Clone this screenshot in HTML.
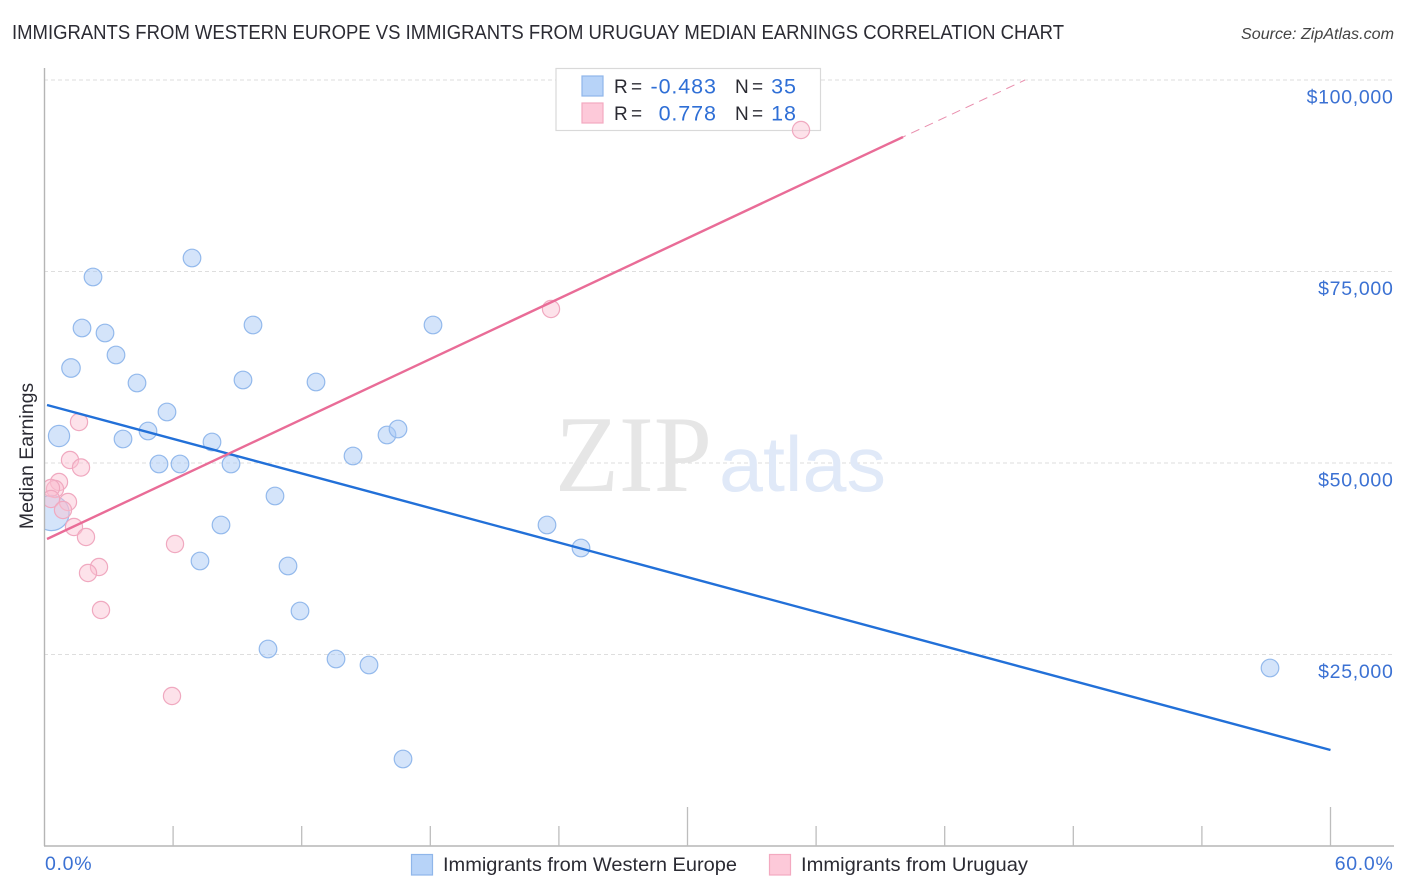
<!DOCTYPE html>
<html lang="en">
<head>
<meta charset="utf-8">
<title>Immigrants from Western Europe vs Immigrants from Uruguay Median Earnings Correlation Chart</title>
<style>
html,body{margin:0;padding:0;background:#fff;width:1406px;height:892px;overflow:hidden}
svg{display:block}
text{font-family:"Liberation Sans",sans-serif}
.tick-label{fill:#3b71d3;font-size:19.5px;letter-spacing:.7px}
.legend-text{fill:#2b2b33;font-size:19px;word-spacing:-2px}
.legend-value{fill:#2f6fd6;font-size:21.5px;letter-spacing:.9px}
</style>
</head>
<body>
<svg id="chart" xmlns="http://www.w3.org/2000/svg" width="1406" height="892" viewBox="0 0 1406 892">
  <defs>
    <clipPath id="plot-clip"><rect x="44" y="60" width="1350" height="786"/></clipPath>
  </defs>
  <text x="12" y="39" font-size="20" fill="#2b2b33" textLength="1052" lengthAdjust="spacingAndGlyphs">IMMIGRANTS FROM WESTERN EUROPE VS IMMIGRANTS FROM URUGUAY MEDIAN EARNINGS CORRELATION CHART</text>
  <text x="1241" y="39" font-size="15.5" font-style="italic" fill="#444" textLength="153" lengthAdjust="spacingAndGlyphs">Source: ZipAtlas.com</text>

  <g id="grid"></g>

  <g>
    <text x="555" y="491" style="font-family:'Liberation Serif',serif" font-size="109" fill="#e6e6e6" textLength="157" lengthAdjust="spacingAndGlyphs">ZIP</text>
    <text x="719" y="491" font-size="78" fill="#e0e9f8" textLength="167" lengthAdjust="spacingAndGlyphs">atlas</text>
  </g>

  <g>
    <rect x="556" y="68.5" width="264.5" height="62" fill="#fff" stroke="#d9d9d9" stroke-width="1.2"/>
    <rect x="582" y="76" width="21" height="20" fill="#b7d3f8" stroke="#8fb6ea" stroke-width="1.2"/>
    <text class="legend-text" x="614" y="93">R =</text>
    <text class="legend-value" x="716.9" y="93.5" text-anchor="end">-0.483</text>
    <text class="legend-text" x="735" y="93">N =</text>
    <text class="legend-value" x="796.9" y="93.5" text-anchor="end">35</text>
    <rect x="582" y="103" width="21" height="20" fill="#fdc9d9" stroke="#f3a9c0" stroke-width="1.2"/>
    <text class="legend-text" x="614" y="120">R =</text>
    <text class="legend-value" x="716.9" y="120.5" text-anchor="end">0.778</text>
    <text class="legend-text" x="735" y="120">N =</text>
    <text class="legend-value" x="796.9" y="120.5" text-anchor="end">18</text>
  </g>

  <g id="points" clip-path="url(#plot-clip)"></g>
  <g id="lines"></g>
  <g id="axes"></g>

  <text transform="translate(33,456) rotate(-90)" font-size="19.5" fill="#2b2b33" text-anchor="middle">Median Earnings</text>

  <g>
    <rect x="411.5" y="854.5" width="21" height="20.5" fill="#b7d3f8" stroke="#8fb6ea" stroke-width="1.2"/>
    <text x="443" y="871" font-size="19.5" fill="#2b2b33" textLength="294" lengthAdjust="spacingAndGlyphs">Immigrants from Western Europe</text>
    <rect x="769.5" y="854.5" width="21" height="20.5" fill="#fdc9d9" stroke="#f3a9c0" stroke-width="1.2"/>
    <text x="801" y="871" font-size="19.5" fill="#2b2b33" textLength="227" lengthAdjust="spacingAndGlyphs">Immigrants from Uruguay</text>
  </g>
</svg>
<script>
// Chart data
const yTickValues = [25000, 50000, 75000, 100000];
const yTickLabels = ['$25,000', '$50,000', '$75,000', '$100,000'];
const xTickValues = [0, 6, 12, 18, 24, 30, 36, 42, 48, 54, 60];
const xEndLabels = ['0.0%', '60.0%'];
const xMajorTicks = [30, 60];

const westernEuropeX = [2.263, 6.882, 1.750, 2.823, 9.728, 18.126, 3.336, 1.236, 4.316, 9.261, 12.667, 5.715, 4.829, 3.663, 0.677, 15.980, 16.493, 7.815, 14.394, 5.342, 6.322, 8.702, 10.754, 8.235, 23.445, 25.032, 7.255, 11.361, 11.921, 10.428, 13.601, 15.140, 57.178, 16.727, 0.327];
const westernEuropeY = [74282, 76762, 67624, 66971, 68016, 68016, 64099, 62402, 60444, 60836, 60574, 56658, 54178, 53133, 53525, 53655, 54439, 52742, 50914, 49869, 49869, 49869, 45692, 41906, 41906, 38903, 37206, 36554, 30679, 25718, 24413, 23629, 23238, 11358, 43473];
const westernEuropeWeight = [1, 1, 1, 1, 1, 1, 1, 1.1, 1, 1, 1, 1, 1, 1, 1.45, 1, 1, 1, 1, 1, 1, 1, 1, 1, 1, 1, 1, 1, 1, 1, 1, 1, 1, 1, 4];

const uruguayX = [35.296, 23.632, 1.610, 1.190, 1.703, 0.677, 0.490, 0.303, 0.303, 1.096, 0.863, 1.376, 1.936, 6.089, 2.543, 2.030, 2.636, 5.949];
const uruguayY = [93473, 70104, 55352, 50392, 49413, 47520, 46606, 46736, 45300, 44909, 43864, 41645, 40339, 39426, 36423, 35640, 30809, 19582];

const westernEuropeTrendX = [0.117, 60];
const westernEuropeTrendY = [57572, 12533];
const uruguayTrendX = [0.117, 40.055];
const uruguayTrendY = [40078, 92559];
const uruguayExtensionX = [40.055, 45.748];
const uruguayExtensionY = [92559, 100000];

// Axis functions
const xScale = v => 44.5 + v * (1330.5 - 44.5) / 60;
const yScale = v => 846 - v * (846 - 80) / 100000;

const NS = 'http://www.w3.org/2000/svg';
function make(parent, tag, attrs) {
  const el = document.createElementNS(NS, tag);
  for (const k in attrs) el.setAttribute(k, attrs[k]);
  parent.appendChild(el);
  return el;
}
const grid = document.getElementById('grid');
const axes = document.getElementById('axes');
const points = document.getElementById('points');
const lines = document.getElementById('lines');

yTickValues.forEach((v, i) => {
  const g = make(grid, 'line', {x1: 44, x2: 1394, y1: yScale(v), y2: yScale(v), stroke: '#dedede', 'stroke-width': 1, 'stroke-dasharray': '4 3'});
  
  
  const t = make(axes, 'text', {x: 1393.5, y: yScale(v) + 23.5, 'text-anchor': 'end', class: 'tick-label'});
  t.textContent = yTickLabels[i];
  
  
});

const yAxis = make(axes, 'line', {x1: 44.5, x2: 44.5, y1: 68, y2: 846, stroke: '#b5b5b5', 'stroke-width': 1.4});


const xAxis = make(axes, 'line', {x1: 44, x2: 1394, y1: 846, y2: 846, stroke: '#b5b5b5', 'stroke-width': 1.4});



xTickValues.forEach(v => {
  if (v === 0) return;
  const top = xMajorTicks.includes(v) ? 807 : 826;
  const tick = make(axes, 'line', {x1: xScale(v), x2: xScale(v), y1: top, y2: 846, stroke: '#bdbdbd', 'stroke-width': 1.3});
  
  
});

const xLeft = make(axes, 'text', {x: 45, y: 870, class: 'tick-label'});
xLeft.textContent = xEndLabels[0];


const xRight = make(axes, 'text', {x: 1393.5, y: 870, 'text-anchor': 'end', class: 'tick-label'});
xRight.textContent = xEndLabels[1];



westernEuropeX.forEach((x, i) => {
  const c = make(points, 'circle', {cx: xScale(x), cy: yScale(westernEuropeY[i]), r: 8.8 * Math.sqrt(westernEuropeWeight[i]), fill: 'rgba(170,202,245,.5)', stroke: '#93b9ec', 'stroke-width': 1.2});
  
  
});
uruguayX.forEach((x, i) => {
  const c = make(points, 'circle', {cx: xScale(x), cy: yScale(uruguayY[i]), r: 8.6, fill: 'rgba(250,190,208,.45)', stroke: '#f0a9c0', 'stroke-width': 1.2});
  
  
});

const blueLine = make(lines, 'line', {x1: xScale(westernEuropeTrendX[0]), y1: yScale(westernEuropeTrendY[0]), x2: xScale(westernEuropeTrendX[1]), y2: yScale(westernEuropeTrendY[1]), stroke: '#2270d8', 'stroke-width': 2.4});


const pinkLine = make(lines, 'line', {x1: xScale(uruguayTrendX[0]), y1: yScale(uruguayTrendY[0]), x2: xScale(uruguayTrendX[1]), y2: yScale(uruguayTrendY[1]), stroke: '#e96c97', 'stroke-width': 2.4});


const pinkDash = make(lines, 'line', {x1: xScale(uruguayExtensionX[0]), y1: yScale(uruguayExtensionY[0]), x2: xScale(uruguayExtensionX[1]), y2: yScale(uruguayExtensionY[1]), stroke: '#e98fae', 'stroke-width': 1, 'stroke-dasharray': '9 6', 'stroke-dashoffset': 6});


</script>
</body>
</html>
